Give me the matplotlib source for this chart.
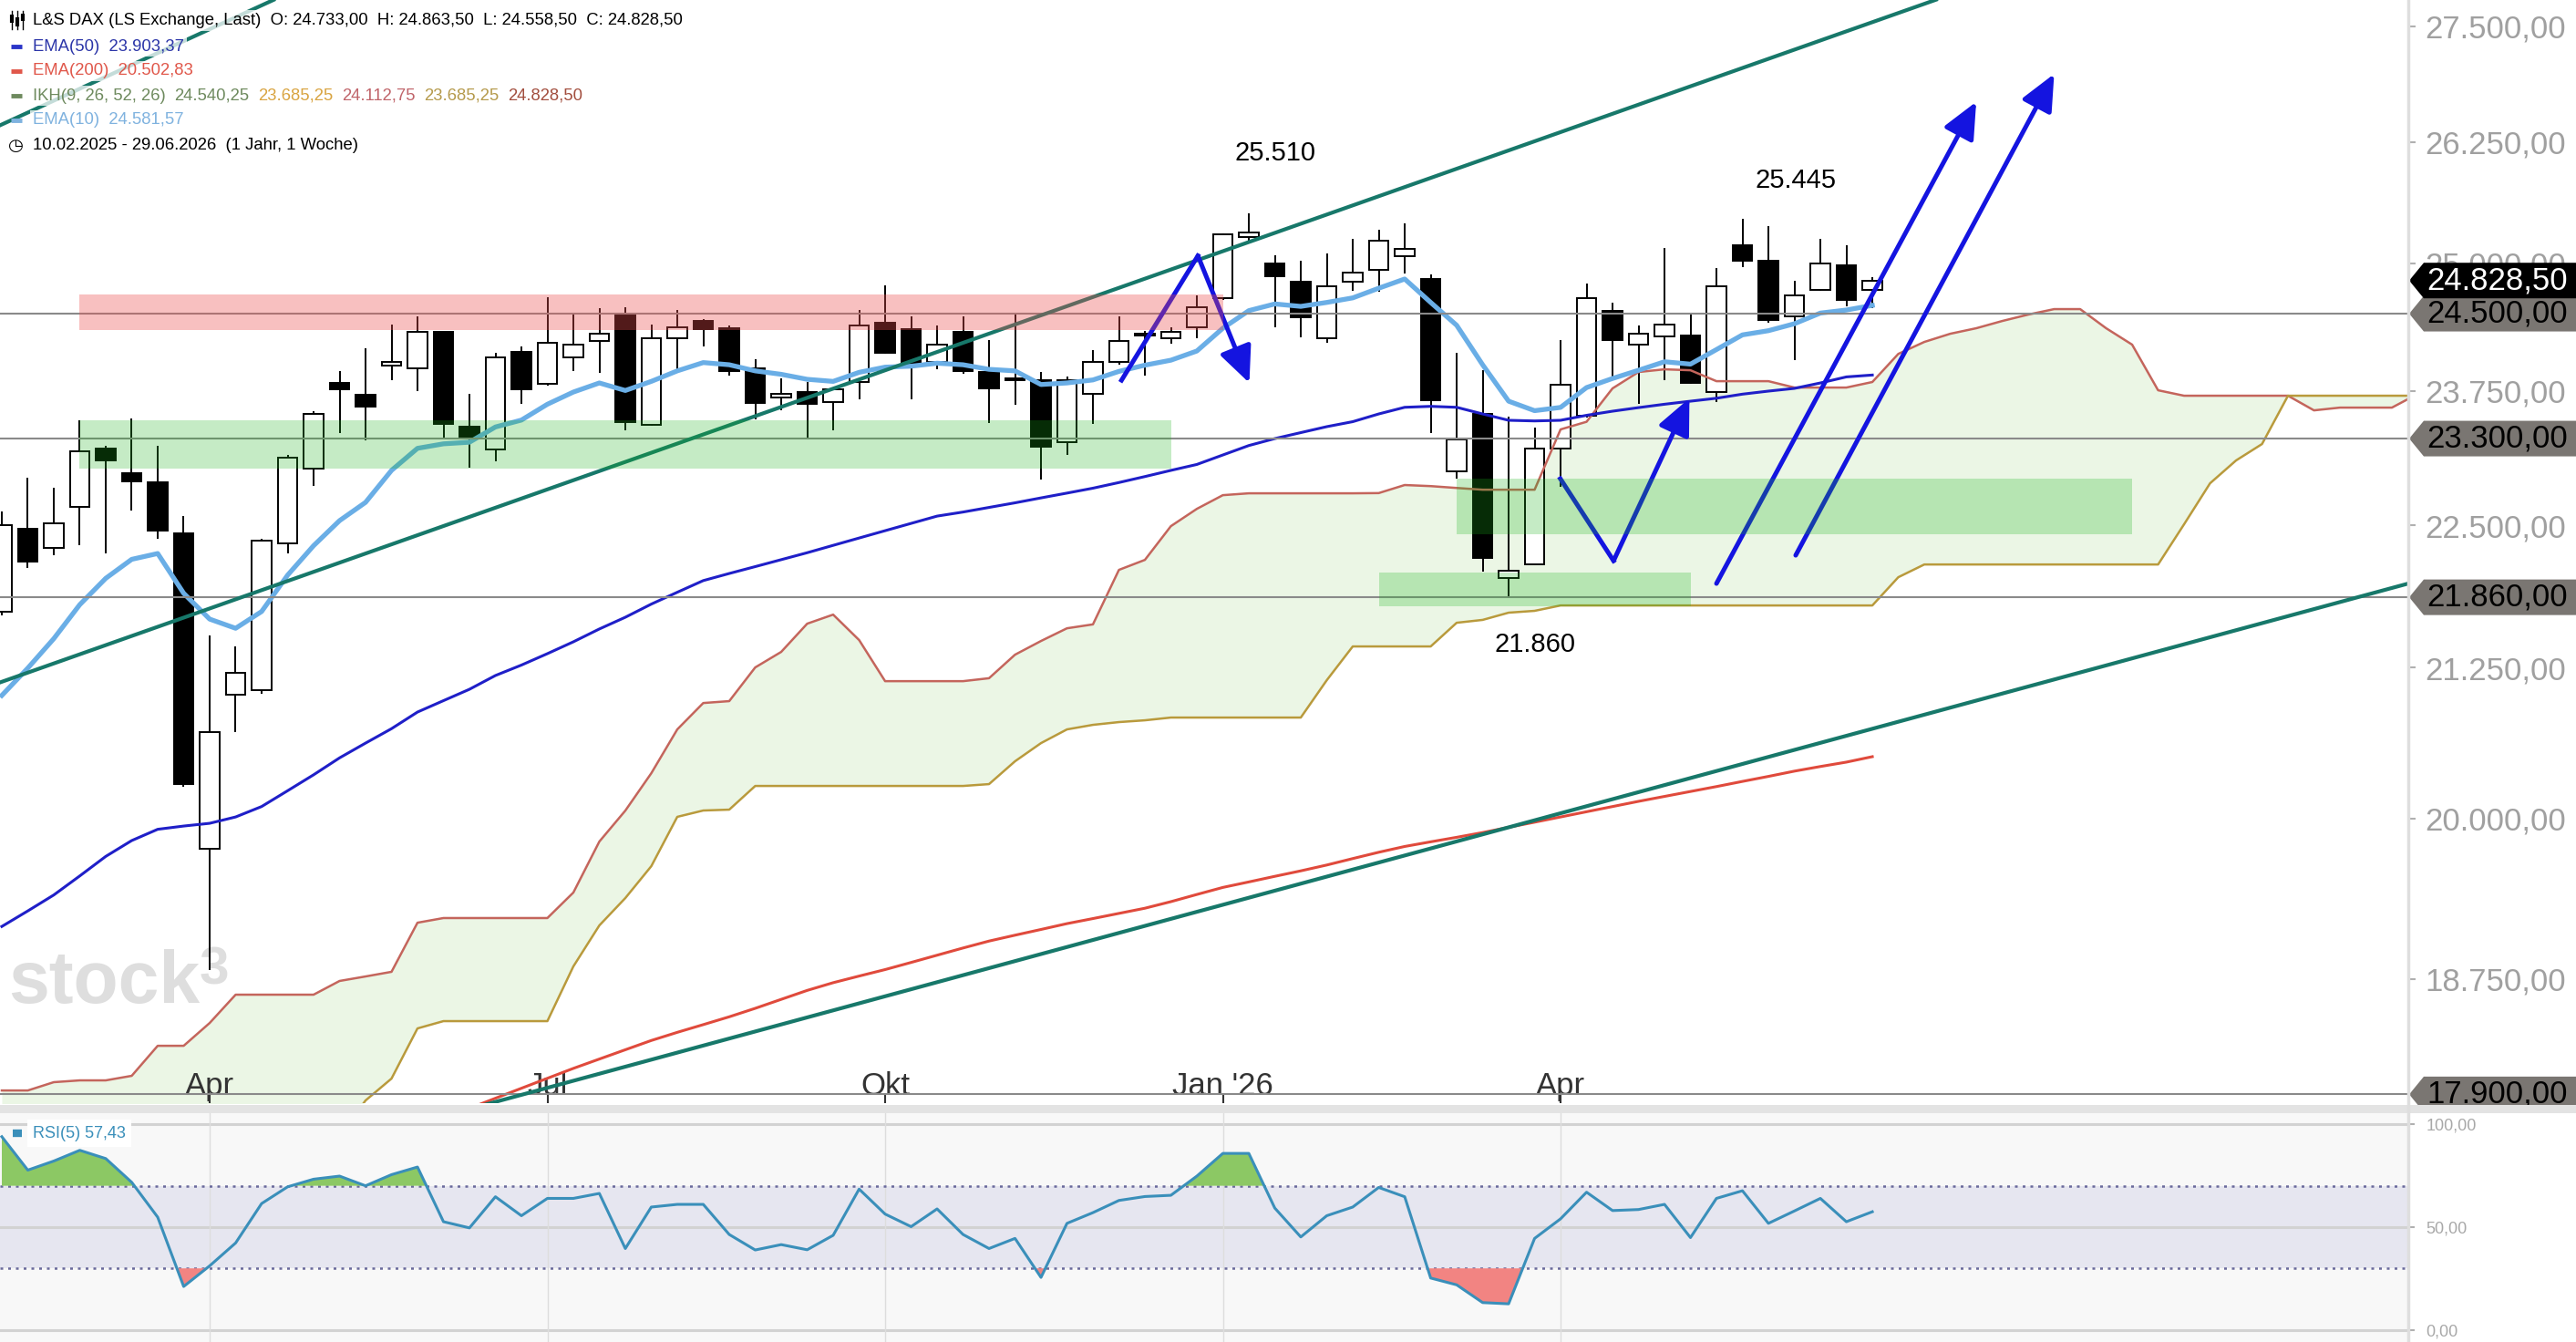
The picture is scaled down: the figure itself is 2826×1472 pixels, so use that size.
import numpy as np
import matplotlib.pyplot as plt
import matplotlib.transforms as mtransforms
from matplotlib.path import Path
from matplotlib.lines import Line2D
from matplotlib.patches import Rectangle
from matplotlib.ticker import FuncFormatter, NullLocator

plt.rcParams['font.family'] = ['Liberation Sans', 'DejaVu Sans']

# ---- weekly candles (L&S DAX) ----
opens = [21735, 22470, 22300, 22670, 23210, 22980, 22895, 22430, 19760, 21020,
         21060, 22340, 23020, 23825, 23710, 23995, 23970, 24320, 23415, 23195,
         24125, 23820, 24075, 24230, 24490, 23430, 24260, 24430, 24355, 23965,
         23690, 23740, 23645, 23835, 24415, 24350, 24030, 24320, 23930, 23870,
         23850, 23265, 23720, 24030, 24290, 24260, 24365, 24655, 25265, 25000,
         24815, 24260, 24815, 24935, 25075, 24845, 22995, 23530, 22030, 22150,
         23210, 23515, 24530, 24200, 24275, 24290, 23740, 25180, 25025, 24475,
         24735, 24980, 24733]
highs = [22625, 22935, 22845, 23475, 23230, 23490, 23230, 22585, 21530, 21430,
         22380, 23150, 23555, 23940, 24160, 24395, 24475, 24330, 23725, 24115,
         24175, 24660, 24490, 24550, 24565, 24395, 24535, 24450, 24380, 24055,
         23870, 23840, 23785, 24535, 24785, 24475, 24385, 24475, 24245, 24490,
         23930, 23885, 24140, 24475, 24330, 24365, 24680, 25305, 25510, 25080,
         25025, 25105, 25250, 25345, 25410, 24890, 24115, 23950, 23510, 23400,
         24245, 24800, 24610, 24380, 25160, 24495, 24950, 25450, 25375, 24830,
         25250, 25185, 24863.5]
lows = [21700, 22120, 22230, 22325, 22245, 22635, 22380, 20255, 18820, 20710,
        21030, 22245, 22860, 23350, 23285, 23855, 23745, 23310, 23030, 23090,
        23630, 23805, 23940, 23925, 23380, 23420, 23960, 24180, 23895, 23480,
        23565, 23295, 23380, 23675, 24105, 23675, 23960, 23915, 23450, 23615,
        22920, 23145, 23435, 24000, 23900, 24205, 24260, 24635, 25200, 24365,
        24265, 24215, 24730, 24715, 24900, 23350, 22925, 22090, 21860, 22140,
        22850, 23495, 23850, 23625, 23850, 23820, 23645, 24965, 24410, 24045,
        24730, 24570, 24558.5]
closes = [22505, 22175, 22520, 23180, 23095, 22905, 22455, 20280, 20710, 21205,
          22360, 23125, 23530, 23765, 23600, 24030, 24320, 23435, 23310, 24075,
          23765, 24215, 24200, 24305, 23455, 24260, 24365, 24350, 23945, 23640,
          23720, 23630, 23765, 24380, 24120, 24000, 24195, 23945, 23775, 23855,
          23225, 23850, 24030, 24230, 24300, 24320, 24565, 25295, 25310, 24870,
          24465, 24775, 24905, 25230, 25150, 23660, 23295, 22205, 22095, 23210,
          23810, 24655, 24245, 24305, 24395, 23825, 24775, 25025, 24440, 24685,
          24995, 24635, 24828.5]

ema10 = [21014, 21246, 21499, 21795, 22027, 22196, 22248, 21895, 21669, 21589,
         21735, 22055, 22318, 22544, 22710, 23004, 23209, 23251, 23266, 23409,
         23474, 23624, 23740, 23827, 23755, 23842, 23943, 24023, 24002, 23943,
         23910, 23862, 23842, 23929, 23979, 23988, 24017, 24002, 23958, 23943,
         23812, 23827, 23856, 23938, 23998, 24046, 24135, 24357, 24530, 24596,
         24572, 24611, 24656, 24752, 24844, 24611, 24386, 24002, 23653, 23563,
         23594, 23783, 23870, 23949, 24031, 24008, 24149, 24292, 24333, 24401,
         24506, 24536, 24582]
ema50 = [19150, 19270, 19394, 19543, 19697, 19823, 19913, 19939, 19961, 20012,
         20096, 20224, 20354, 20493, 20615, 20735, 20874, 20970, 21066, 21183,
         21272, 21370, 21472, 21583, 21685, 21800, 21904, 22007, 22070, 22131,
         22193, 22255, 22321, 22387, 22453, 22519, 22585, 22622, 22664, 22706,
         22751, 22795, 22840, 22892, 22947, 23004, 23059, 23147, 23235, 23300,
         23356, 23412, 23459, 23532, 23595, 23604, 23595, 23532, 23472, 23466,
         23472, 23519, 23558, 23592, 23624, 23653, 23681, 23720, 23749, 23775,
         23827, 23885, 23903]
ema200_start = 15
ema200 = [17590, 17657, 17728, 17800, 17872, 17944, 18016, 18088, 18156, 18224,
          18292, 18352, 18409, 18467, 18530, 18597, 18664, 18722, 18772, 18821,
          18875, 18930, 18985, 19038, 19083, 19127, 19172, 19211, 19251, 19291,
          19342, 19398, 19453, 19496, 19540, 19583, 19629, 19680, 19730, 19776,
          19813, 19849, 19887, 19929, 19970, 20012, 20054, 20096, 20138, 20178,
          20218, 20258, 20300, 20341, 20384, 20422, 20458, 20503]

# ichimoku cloud (shifted 26 weeks ahead)
span_a = [17928, 17928, 17988, 18001, 18001, 18034, 18253, 18253, 18421, 18632,
          18632, 18632, 18632, 18735, 18769, 18804, 19179, 19215, 19215, 19215,
          19215, 19215, 19413, 19815, 20063, 20367, 20729, 20950, 20966, 21252,
          21385, 21629, 21708, 21487, 21135, 21135, 21135, 21135, 21160, 21361,
          21479, 21589, 21623, 22102, 22191, 22494, 22651, 22776, 22793, 22793,
          22793, 22793, 22793, 22795, 22869, 22859, 22842, 22826, 22826, 22826,
          23386, 23458, 23775, 23932, 23958, 23949, 23844, 23844, 23844, 23783,
          23783, 23783, 23836, 24107, 24223, 24303, 24357, 24428, 24491, 24545,
          24545, 24357, 24197, 23757, 23705, 23705, 23705, 23705, 23705, 23566,
          23592, 23592, 23592, 23723]
span_b = [17300, 17300, 17300, 17300, 17300, 17300, 17400, 17400, 17400, 17400,
          17400, 17500, 17500, 17600, 17856, 18014, 18381, 18435, 18435, 18435,
          18435, 18435, 18845, 19158, 19370, 19620, 20013, 20064, 20071, 20263,
          20263, 20263, 20263, 20263, 20263, 20263, 20263, 20263, 20278, 20465,
          20615, 20729, 20767, 20790, 20805, 20828, 20828, 20828, 20828, 20828,
          20828, 21143, 21432, 21432, 21432, 21432, 21637, 21662, 21725, 21741,
          21788, 21788, 21788, 21788, 21788, 21788, 21788, 21788, 21788, 21788,
          21788, 21788, 21788, 22037, 22150, 22150, 22150, 22150, 22150, 22150,
          22150, 22150, 22150, 22150, 22511, 22885, 23096, 23249, 23705, 23705,
          23705, 23705, 23705, 23705]

rsi = [93.8, 77.6, 82.0, 87.2, 83.2, 71.7, 54.8, 21.2, 31.2, 42.3,
       61.4, 69.5, 73.2, 74.7, 70.0, 75.4, 79.1, 52.6, 49.6, 64.7,
       55.5, 63.9, 63.9, 66.3, 39.6, 59.7, 61.0, 61.0, 46.4, 38.9,
       41.5, 39.0, 46.0, 68.4, 56.3, 50.2, 58.8, 46.4, 39.6, 44.5,
       25.6, 51.8, 57.0, 62.9, 64.8, 65.4, 74.7, 85.7, 85.7, 59.2,
       45.2, 55.5, 59.7, 69.2, 64.7, 25.3, 22.0, 13.4, 12.8, 44.5,
       54.0, 66.9, 58.0, 58.5, 61.0, 44.9, 63.9, 67.6, 51.8, 57.8,
       63.9, 52.6, 57.43]

month_pos = [8.0, 21.0, 34.0, 47.0, 60.0]
month_labels = ['Apr', 'Jul', 'Okt', "Jan '26", 'Apr']
price_ticks = [18750, 20000, 21250, 22500, 23750, 25000, 26250, 27500]

# horizontal levels and zones (price)
levels = [24500, 23300, 21860, 17900]
red_zone = (3.0, 47.0, 24339, 24693)
green_zones = [(3.0, 45.0, 23020, 23472), (56.0, 82.0, 22420, 22927), (53.0, 65.0, 21780, 22078)]

# drawn trend lines (week index, price)
trend_upper = ([-1, 80], [21052, 28370])
trend_lower = ([15, 93], [17645, 22004])
trend_top = ([-1, 12], [26310, 28000])

# blue arrow sketches
arrow_top = ([43.1, 46.04, 48.02], [23853, 25077, 23827])
arrow_v = ([59.99, 62.04, 64.96], [22927, 22183, 23681])
arrow_up1 = ([66.0, 76.0], [21981, 26678])
arrow_up2 = ([69.05, 79.0], [22232, 26979])

W, H = 2826, 1472
fig = plt.figure(figsize=(W / 100, H / 100), dpi=100)
ax = fig.add_axes([0, 1 - 1210 / H, 2642 / W, 1210 / H])
rax = fig.add_axes([0, 0, 2642 / W, 251 / H])

k = np.arange(len(closes))
kc = np.arange(len(span_a))
o = np.array(opens); c = np.array(closes)

# cloud
ax.fill_between(kc, span_a, span_b, color='#ebf6e5', lw=0, zorder=1)

# candles
ax.vlines(k, lows, highs, color='black', lw=1.4, zorder=3)
up = c >= o
ax.bar(k, np.abs(c - o), bottom=np.minimum(o, c), width=0.74,
       color=np.where(up, 'white', 'black'), edgecolor='black', lw=1.4, zorder=4)

# indicator lines
ax.plot(kc, span_a, color='#c4655c', lw=1.8, zorder=5)
ax.plot(kc, span_b, color='#b99a3c', lw=1.8, zorder=5)
ax.plot(np.arange(ema200_start, ema200_start + len(ema200)), ema200, color='#e04a3c', lw=2.2, zorder=5)
ax.plot(k, ema50, color='#1f1fc8', lw=2.2, zorder=5)
ax.plot(k, ema10, color='#6aaee6', lw=3.8, zorder=5)

for lv in levels:
    ax.axhline(lv, color='#8a8a8a', lw=1.5, zorder=6)

teal = '#17786a'
for xs, ys in (trend_upper, trend_lower, trend_top):
    ax.plot(xs, ys, color=teal, lw=3.0, zorder=7, solid_capstyle='butt')

blue = '#1414e0'
aprops = dict(arrowstyle='-|>,head_length=1.1,head_width=0.5', color=blue, lw=3.6,
              mutation_scale=22, shrinkA=0, shrinkB=0)
for xs, ys in (arrow_top, arrow_v):
    ax.plot(xs[:2], ys[:2], color=blue, lw=3.6, zorder=8)
    ax.annotate('', xy=(xs[2], ys[2]), xytext=(xs[1], ys[1]), arrowprops=aprops, zorder=8)
for xs, ys in (arrow_up1, arrow_up2):
    ax.annotate('', xy=(xs[1], ys[1]), xytext=(xs[0], ys[0]), arrowprops=aprops, zorder=8)

# zones on top (semi-transparent)
x0, x1, lo, hi = red_zone
ax.add_patch(Rectangle((x0, lo), x1 - x0, hi - lo, facecolor=(0.93, 0.3, 0.3, 0.35), lw=0, zorder=10))
for x0, x1, lo, hi in green_zones:
    ax.add_patch(Rectangle((x0, lo), x1 - x0, hi - lo, facecolor=(0.1, 0.7, 0.1, 0.25), lw=0, zorder=10))

# price annotations
for x, y, s in ((49.0, 26137, '25.510'), (69.05, 25844, '25.445'), (59.0, 21451, '21.860')):
    ax.text(x, y, s, fontsize=21, ha='center', va='center', color='black', zorder=12)

# watermark
ax.text(9 / 2642, 1 - 1100 / 1210, 'stock', transform=ax.transAxes, fontsize=58, fontweight='bold',
        color='#dedede', ha='left', va='baseline', zorder=0.5)
ax.text(219 / 2642, 1 - 1038 / 1210, '3', transform=ax.transAxes, fontsize=42, fontweight='bold',
        color='#dedede', ha='left', va='top', zorder=0.5)

# axes setup
ax.set_yscale('log')
ax.set_ylim(17837, 27793)
ax.set_xlim(-0.07, 92.63)
for sp in ax.spines.values():
    sp.set_visible(False)


def de_fmt(v, pos=None):
    s = f"{v:,.2f}"
    return s.replace(',', 'X').replace('.', ',').replace('X', '.')


ax.yaxis.tick_right()
ax.set_yticks(price_ticks)
ax.yaxis.set_major_formatter(FuncFormatter(de_fmt))
ax.yaxis.set_minor_locator(NullLocator())
ax.tick_params(axis='y', length=6, width=1.5, color='#b0b0b0', labelsize=25, labelcolor='#a0a0a0', pad=7)
ax.set_xticks(month_pos, month_labels)
ax.tick_params(axis='x', direction='in', length=8, width=1.5, color='#333333', labelsize=25,
               labelcolor='#333333', pad=-25)


def tag_shape(x0, y0, width, height, mutation_size):
    y0 -= 3
    height += 6
    tip = 19
    xr = x0 + width + 80
    verts = [(x0 - tip, y0 + height / 2), (x0 - 3, y0 + height), (xr, y0 + height), (xr, y0),
             (x0 - 3, y0), (x0 - tip, y0 + height / 2)]
    codes = [Path.MOVETO] + [Path.LINETO] * 4 + [Path.CLOSEPOLY]
    return Path(verts, codes)


trans = mtransforms.blended_transform_factory(ax.transAxes, ax.transData)
for lv in levels:
    ax.text(1 + 20 / 2642, lv, de_fmt(lv), transform=trans, fontsize=25, color='black', ha='left', va='center',
            bbox=dict(boxstyle=tag_shape, fc='#7a7672', ec='none'), clip_on=False, zorder=20)
ax.text(1 + 20 / 2642, closes[-1], de_fmt(closes[-1]), transform=trans, fontsize=25, color='white',
        ha='left', va='center', bbox=dict(boxstyle=tag_shape, fc='black', ec='none'), clip_on=False, zorder=21)


# legend block
def px(xp, yp):
    return xp / 2642, 1 - yp / 1210


rows = [
    (22.5, [('L&S DAX (LS Exchange, Last)  O: 24.733,00  H: 24.863,50  L: 24.558,50  C: 24.828,50', 'black')], None),
    (51.0, [('EMA(50)  23.903,37', '#2b35a8')], '#2b35c8'),
    (78.0, [('EMA(200)  20.502,83', '#e0574a')], '#e0574a'),
    (105.0, [('IKH(9, 26, 52, 26)', '#6e8a5e'), ('24.540,25', '#6e8a5e'), ('23.685,25', '#d9a441'),
             ('24.112,75', '#c0646a'), ('23.685,25', '#b59a4c'), ('24.828,50', '#a24e3e')], '#6e8a5e'),
    (132.0, [('EMA(10)  24.581,57', '#7fb2df')], '#7fb2df'),
    (159.0, [('10.02.2025 - 29.06.2026  (1 Jahr, 1 Woche)', 'black')], None),
]
box = dict(boxstyle='square,pad=0.15', fc='white', ec='none', alpha=0.75)
for yp, pieces, mcol in rows:
    t = ax.text(*px(36, yp), pieces[0][0], transform=ax.transAxes, fontsize=13.3, color=pieces[0][1],
                ha='left', va='center', bbox=box, zorder=15)
    for s, col in pieces[1:]:
        t = ax.annotate(s, xy=(1, 0.5), xycoords=t, xytext=(7, 0), textcoords='offset points',
                        fontsize=13.3, color=col, ha='left', va='center', bbox=box, zorder=15)
    if mcol:
        ax.plot([12 / 2642, 24 / 2642], [1 - yp / 1210] * 2, transform=ax.transAxes, color=mcol,
                lw=3.5, solid_capstyle='butt', zorder=16, clip_on=False)
ax.text(*px(9, 159.0), '\u25f7', transform=ax.transAxes, fontsize=14, color='black', ha='left',
        va='center', family='DejaVu Sans', zorder=16)
# small candlestick icon in front of the title
for xi, (b0, b1) in zip((13, 19, 25), ((16, 25), (19, 29), (15, 23))):
    ax.plot([xi / 2642] * 2, [1 - 12 / 1210, 1 - 32 / 1210], transform=ax.transAxes, color='black',
            lw=1.0, zorder=16)
    ax.plot([xi / 2642] * 2, [1 - b0 / 1210, 1 - b1 / 1210], transform=ax.transAxes, color='black',
            lw=3.0, solid_capstyle='butt', zorder=16)

# ---- RSI panel ----
rax.set_facecolor('#f8f8f8')
rax.set_xlim(-0.07, 92.63)
rax.set_ylim(-5.7, 105.2)
rax.axhspan(30, 70, color='#e6e6f0', lw=0, zorder=0)
for lv in (0, 50, 100):
    rax.axhline(lv, color='#d2d2d2', lw=2.2, zorder=1)
for lv in (30, 70):
    rax.axhline(lv, color='#6a6a9c', lw=1.8, ls=(0, (1.2, 2.2)), zorder=2)
for m in month_pos:
    rax.axvline(m, color='#dddddd', lw=1.0, zorder=1)
r = np.array(rsi)
rax.fill_between(k, r, 70, where=r > 70, interpolate=True, color='#8cc864', lw=0, zorder=3)
rax.fill_between(k, r, 30, where=r < 30, interpolate=True, color='#f28482', lw=0, zorder=3)
rax.plot(k, r, color='#3a8fba', lw=2.2, zorder=4)
for sp in rax.spines.values():
    sp.set_visible(False)
rax.yaxis.tick_right()
rax.set_yticks([0, 50, 100])
rax.yaxis.set_major_formatter(FuncFormatter(de_fmt))
rax.tick_params(axis='y', length=5, width=1.5, color='#b0b0b0', labelsize=13, labelcolor='#a8a8a8', pad=9)
rax.set_xticks([])
rax.text(36 / 2642, (1472 - 1243) / 251, 'RSI(5) 57,43', transform=rax.transAxes, fontsize=13,
         color='#3a8fba', ha='left', va='center', zorder=6,
         bbox=dict(boxstyle='square,pad=0.35', fc='white', ec='none'))
rax.plot([14 / 2642, 24 / 2642], [(1472 - 1243) / 251] * 2, transform=rax.transAxes, color='#3a8fba',
         lw=6, solid_capstyle='butt', zorder=7)

# separator band and right axis line
fig.add_artist(Rectangle((0, 251 / H), 1, 9 / H, transform=fig.transFigure, color='#e3e3e3', lw=0))
fig.add_artist(Line2D([2642 / W] * 2, [0, 1], transform=fig.transFigure, color='#dedede', lw=2.5))

fig.savefig('out.png', dpi=100)
